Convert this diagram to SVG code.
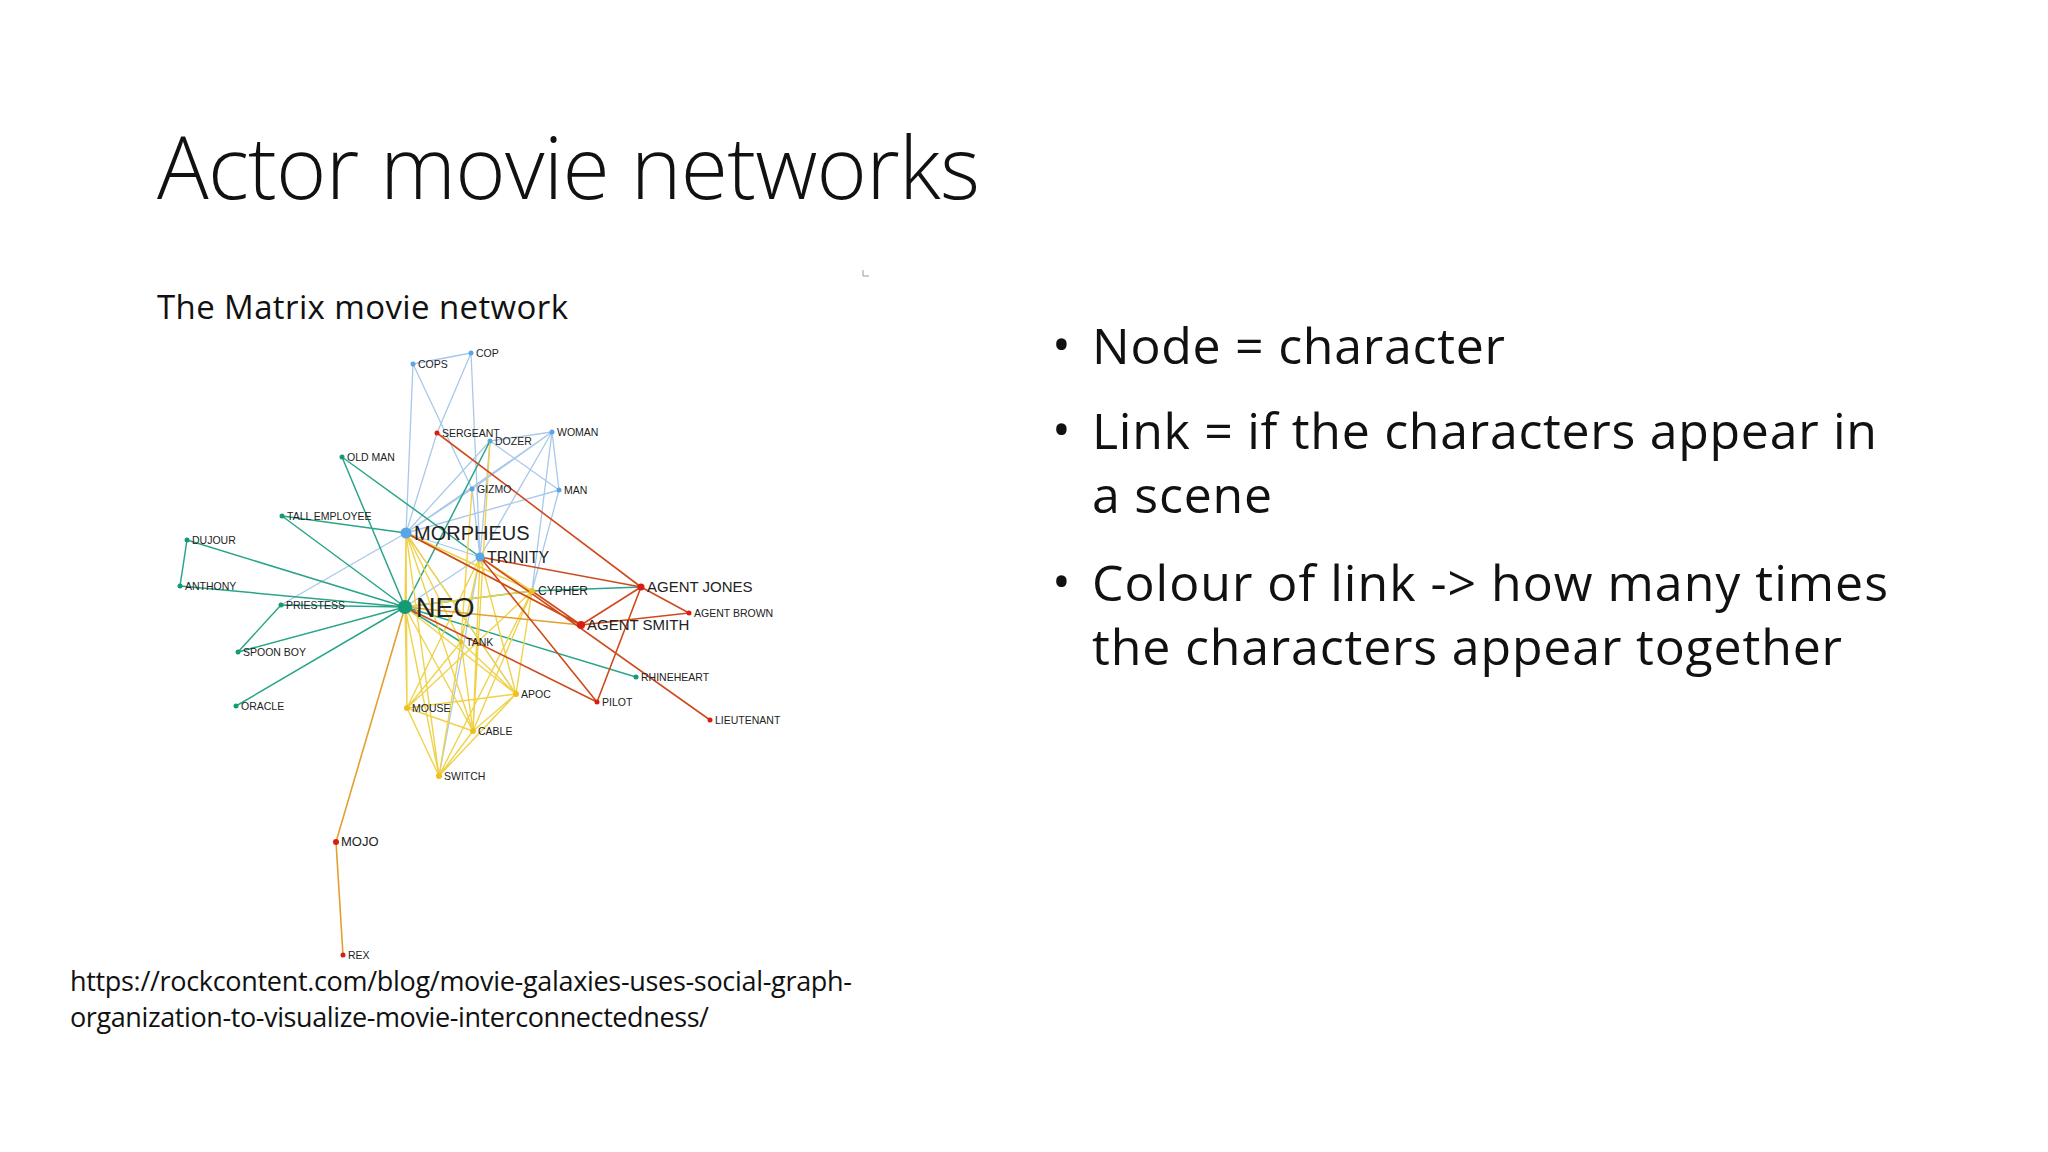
<svg xmlns="http://www.w3.org/2000/svg" width="2048" height="1152" viewBox="0 0 2048 1152">
<style>
.t{font-family:"Liberation Sans",Arial,sans-serif;fill:#222}
.s{font-family:"Open Sans","Liberation Sans",sans-serif;fill:#111}
.l{font-size:10.5px}
.bl{stroke:#a9c8ea;stroke-width:1.3;fill:none}
.te{stroke:#2aa58a;stroke-width:1.5;fill:none}
.ye{stroke:#f0d24a;stroke-width:1.4;fill:none}
.or{stroke:#e3a030;stroke-width:1.6;fill:none}
.re{stroke:#cf4a1c;stroke-width:1.6;fill:none}
.nt{fill:#159a78}.nb{fill:#5aa5e8}.ny{fill:#f0c020}.nr{fill:#d81e10}
</style>
<rect width="2048" height="1152" fill="#fff"/>
<text class="s" x="157" y="199" font-size="86" font-weight="300" textLength="823">Actor movie networks</text>
<text class="s" x="157" y="319" font-size="33" textLength="411">The Matrix movie network</text>
<path d="M863 270 v6 h6" stroke="#999" fill="none" stroke-width="1"/>
<g id="connectors">
<path class="bl" d="M413 364L471 353M413 364L406 533M413 364L472 489M471 353L480 557M471 353L437 433M437 433L406 533M490 441L552 432M490 441L559 490M490 441L406 533M490 441L480 557M552 432L406 533M552 432L480 557M552 432L559 490M552 432L472 489M552 432L532 591M559 490L406 533M559 490L532 591M472 489L406 533M472 489L480 557M406 533L480 557M406 533L281 605M480 557L405 607M480 557L439 776M406 533L516 694"/>
<path class="te" d="M342 457L405 607M342 457L480 557M282 516L406 533M282 516L405 607M187 540L180 586M187 540L405 607M180 586L405 607M281 605L405 607M281 605L238 652M238 652L405 607M236 706L405 607M405 607L490 441M405 607L532 591M532 591L641 587M405 607L636 677M405 607L461 642"/>
<path class="ye" d="M406 533L405 607M406 533L407 708M406 533L473 731M406 533L516 694M406 533L439 776M406 533L461 642M406 533L532 591M405 607L407 708M405 607L473 731M405 607L516 694M405 607L439 776M405 607L532 591M480 557L407 708M480 557L473 731M480 557L516 694M480 557L461 642M480 557L532 591M532 591L407 708M532 591L516 694M532 591L473 731M461 642L407 708M461 642L516 694M461 642L473 731M461 642L439 776M407 708L516 694M407 708L473 731M407 708L439 776M516 694L473 731M516 694L439 776M473 731L439 776M490 441L473 731M472 489L461 642M532 591L439 776"/>
<path class="or" d="M405 607L336 842M336 842L343 955M406 533L581 625M405 607L581 625"/>
<path class="re" d="M437 433L641 587M480 557L641 587M480 557L597 702M480 557L710 720M641 587L581 625M641 587L689 613M581 625L689 613M641 587L597 702M405 607L597 702M532 591L581 625M406 533L581 625"/>
</g>
<g id="nodes">
<g id="n-cops"><circle class="nb" cx="413" cy="364" r="2.5"/><text class="t l" x="418" y="368">COPS</text></g>
<g id="n-cop"><circle class="nb" cx="471" cy="353" r="2.5"/><text class="t l" x="476" y="357">COP</text></g>
<g id="n-sergeant"><circle class="nr" cx="437" cy="433" r="2.5"/><text class="t l" x="442" y="437">SERGEANT</text></g>
<g id="n-dozer"><circle class="nb" cx="490" cy="441" r="2.5"/><text class="t l" x="495" y="445">DOZER</text></g>
<g id="n-woman"><circle class="nb" cx="552" cy="432" r="2.5"/><text class="t l" x="557" y="436">WOMAN</text></g>
<g id="n-oldman"><circle class="nt" cx="342" cy="457" r="2.5"/><text class="t l" x="347" y="461">OLD MAN</text></g>
<g id="n-gizmo"><circle class="nb" cx="472" cy="489" r="2.5"/><text class="t l" x="477" y="493">GIZMO</text></g>
<g id="n-man"><circle class="nb" cx="559" cy="490" r="2.5"/><text class="t l" x="564" y="494">MAN</text></g>
<g id="n-tallemp"><circle class="nt" cx="282" cy="516" r="2.5"/><text class="t l" x="287" y="520">TALL EMPLOYEE</text></g>
<g id="n-dujour"><circle class="nt" cx="187" cy="540" r="2.5"/><text class="t l" x="192" y="544">DUJOUR</text></g>
<g id="n-anthony"><circle class="nt" cx="180" cy="586" r="2.5"/><text class="t l" x="185" y="590">ANTHONY</text></g>
<g id="n-priestess"><circle class="nt" cx="281" cy="605" r="2.5"/><text class="t l" x="286" y="609">PRIESTESS</text></g>
<g id="n-spoonboy"><circle class="nt" cx="238" cy="652" r="2.5"/><text class="t l" x="243" y="656">SPOON BOY</text></g>
<g id="n-oracle"><circle class="nt" cx="236" cy="706" r="2.5"/><text class="t l" x="241" y="710">ORACLE</text></g>
<g id="n-morpheus"><circle class="nb" cx="406" cy="533" r="5.5"/><text class="t" font-size="20" x="414" y="540">MORPHEUS</text></g>
<g id="n-trinity"><circle class="nb" cx="480" cy="557" r="4.5"/><text class="t" font-size="16" x="487" y="563">TRINITY</text></g>
<g id="n-neo"><circle class="nt" cx="405" cy="607" r="7"/><text class="t" font-size="27" x="416" y="617">NEO</text></g>
<g id="n-cypher"><circle class="ny" cx="532" cy="591" r="3"/><text class="t" font-size="12" x="538" y="595">CYPHER</text></g>
<g id="n-agentjones"><circle class="nr" cx="641" cy="587" r="3.5"/><text class="t" font-size="15" x="647" y="592">AGENT JONES</text></g>
<g id="n-agentbrown"><circle class="nr" cx="689" cy="613" r="2.5"/><text class="t l" x="694" y="617">AGENT BROWN</text></g>
<g id="n-agentsmith"><circle class="nr" cx="581" cy="625" r="4"/><text class="t" font-size="15" x="587" y="630">AGENT SMITH</text></g>
<g id="n-tank"><circle class="ny" cx="461" cy="642" r="2.5"/><text class="t l" x="466" y="646">TANK</text></g>
<g id="n-rhineheart"><circle class="nt" cx="636" cy="677" r="2.5"/><text class="t l" x="641" y="681">RHINEHEART</text></g>
<g id="n-apoc"><circle class="ny" cx="516" cy="694" r="3"/><text class="t l" x="521" y="698">APOC</text></g>
<g id="n-pilot"><circle class="nr" cx="597" cy="702" r="2.5"/><text class="t l" x="602" y="706">PILOT</text></g>
<g id="n-mouse"><circle class="ny" cx="407" cy="708" r="3"/><text class="t l" x="412" y="712">MOUSE</text></g>
<g id="n-lieutenant"><circle class="nr" cx="710" cy="720" r="2.5"/><text class="t l" x="715" y="724">LIEUTENANT</text></g>
<g id="n-cable"><circle class="ny" cx="473" cy="731" r="3"/><text class="t l" x="478" y="735">CABLE</text></g>
<g id="n-switch"><circle class="ny" cx="439" cy="776" r="3"/><text class="t l" x="444" y="780">SWITCH</text></g>
<g id="n-mojo"><circle class="nr" cx="336" cy="842" r="3"/><text class="t" font-size="13" x="341" y="846">MOJO</text></g>
<g id="n-rex"><circle class="nr" cx="343" cy="955" r="2.5"/><text class="t l" x="348" y="959">REX</text></g>
</g>
<text class="s" x="70" y="991" font-size="27" textLength="782">https://rockcontent.com/blog/movie-galaxies-uses-social-graph-</text>
<text class="s" x="70" y="1027" font-size="27" textLength="639">organization-to-visualize-movie-interconnectedness/</text>
<g class="s" font-size="50">
<text x="1052" y="362">•</text><text x="1092" y="364" textLength="413">Node = character</text>
<text x="1052" y="447">•</text><text x="1092" y="449" textLength="785">Link = if the characters appear in</text>
<text x="1092" y="513" textLength="180">a scene</text>
<text x="1052" y="599">•</text><text x="1092" y="601" textLength="796">Colour of link -&gt; how many times</text>
<text x="1092" y="665" textLength="750">the characters appear together</text>
</g>
</svg>
